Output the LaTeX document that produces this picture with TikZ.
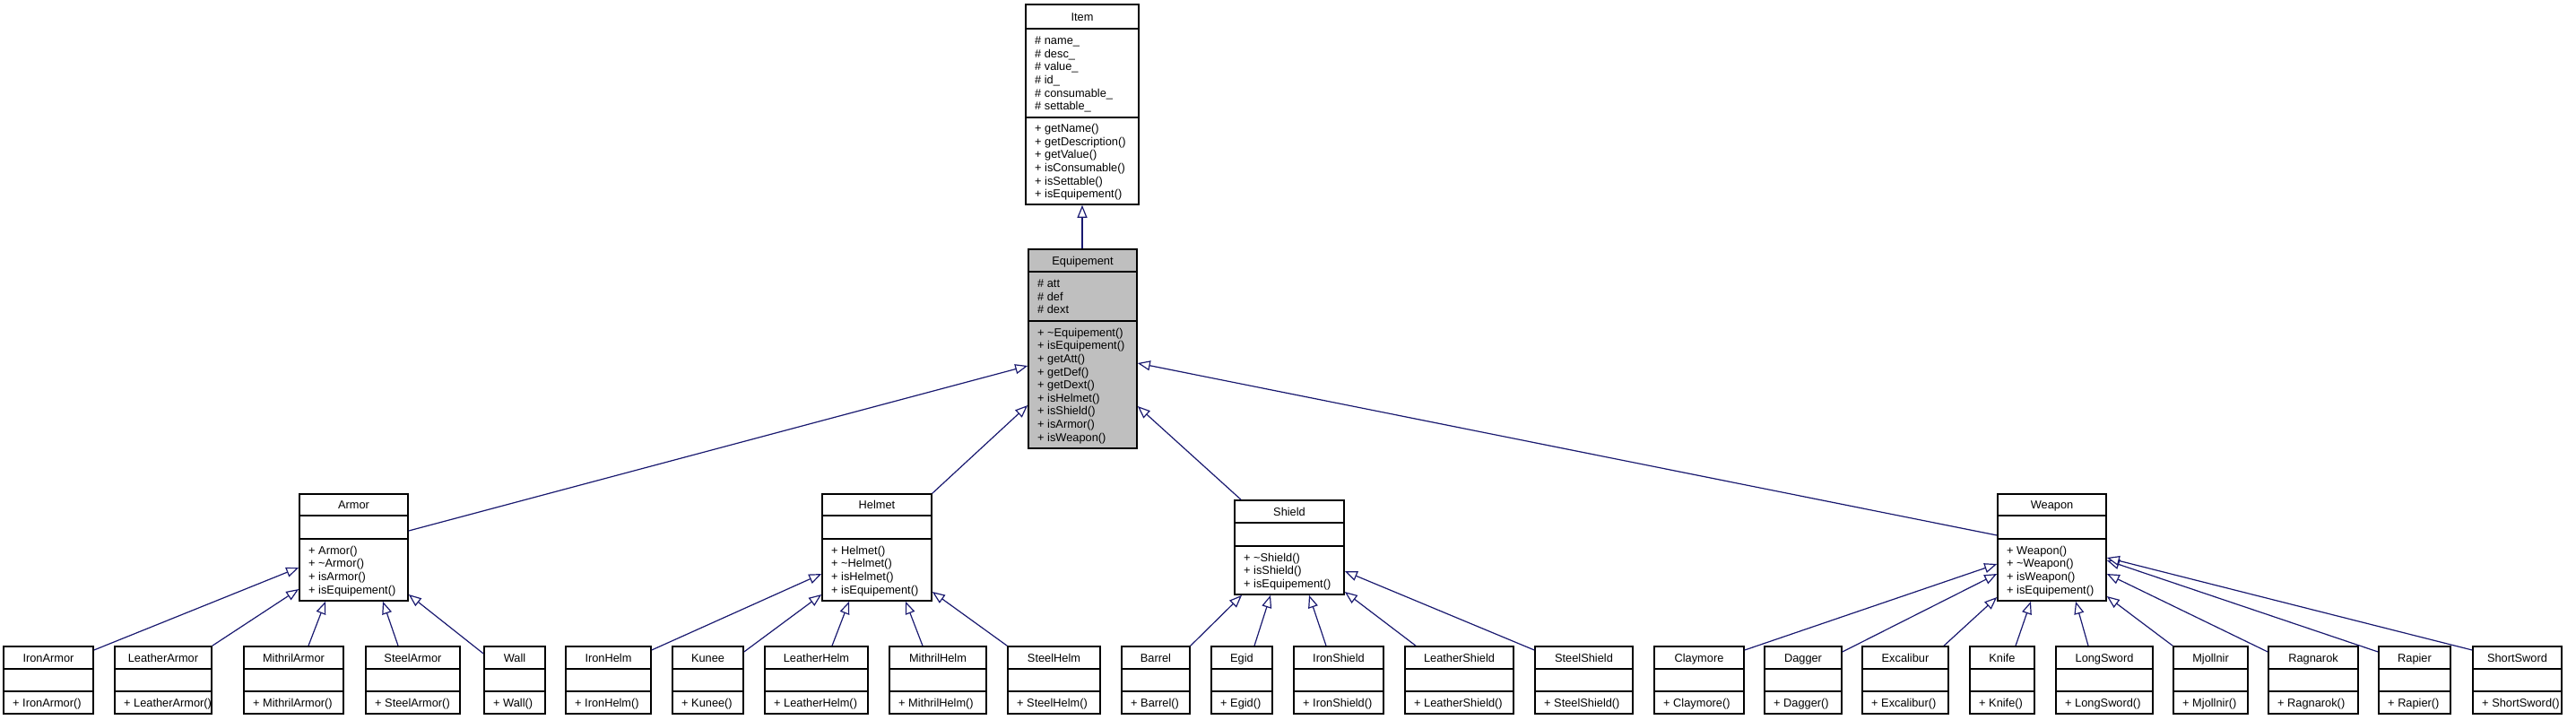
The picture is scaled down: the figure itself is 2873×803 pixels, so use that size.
\documentclass[tikz,border=0pt]{standalone}
\usepackage{fontspec}
\setmainfont{Liberation Sans}
\usetikzlibrary{fit,arrows.meta}
\definecolor{edgeblue}{HTML}{191970}
\definecolor{equipgray}{HTML}{BFBFBF}
\newcommand\cstrut{\rule[-2.7pt]{0pt}{14.6pt}}
\newcommand\cls[9]{%
  \node[clsbox, fit={(#2,#4) (#3,#7)}] (#1) {};
  \draw[clsline] (#2,#5) -- (#3,#5);
  \draw[clsline] (#2,#6) -- (#3,#6);
  \node[clstext] at ({(#2+#3)/2},{(#4+#5)/2}) {\cstrut #8};
  \node[clstext, anchor=west, align=left] at ({#2+10},{(#6+#7)/2}) {#9};
}
\newcommand\clsattrs[4]{%
  \node[clstext, anchor=west, align=left] at ({#1+10},{(#2+#3)/2}) {#4};
}
\tikzset{
  clsbox/.style={draw=black, fill=white, line width=1.6pt, inner sep=0pt},
  clsline/.style={draw=black, line width=1.6pt},
  clstext/.style={inner sep=0pt, font=\fontsize{12.8}{14.6}\selectfont},
  inh/.style={draw=edgeblue, line width=1.2pt, -{Triangle[length=14pt,width=11pt,fill=white]}},
}
\newcommand\cl[1]{\cstrut #1}
\begin{document}
\begin{tikzpicture}[x=1pt,y=-1pt]
\useasboundingbox (0,0) rectangle (2873,803);
\fill[white] (0,0) rectangle (2873,803);
\lineskiplimit=-20pt
% top classes
\cls{item}{1144}{1270}{5}{32}{131}{228}{Item}{\cl{+ getName()}\\\cl{+ getDescription()}\\\cl{+ getValue()}\\\cl{+ isConsumable()}\\\cl{+ isSettable()}\\\cl{+ isEquipement()}}
\clsattrs{1144}{32}{131}{\cl{\# name\_}\\\cl{\# desc\_}\\\cl{\# value\_}\\\cl{\# id\_}\\\cl{\# consumable\_}\\\cl{\# settable\_}}
\begin{scope}[clsbox/.append style={fill=equipgray}]
\cls{equip}{1147}{1268}{278}{303}{358}{500}{Equipement}{\cl{+ \textasciitilde Equipement()}\\\cl{+ isEquipement()}\\\cl{+ getAtt()}\\\cl{+ getDef()}\\\cl{+ getDext()}\\\cl{+ isHelmet()}\\\cl{+ isShield()}\\\cl{+ isArmor()}\\\cl{+ isWeapon()}}
\end{scope}
\clsattrs{1147}{303}{358}{\cl{\# att}\\\cl{\# def}\\\cl{\# dext}}
% middle classes
\cls{armor}{334}{455}{551}{575}{601}{670}{Armor}{\cl{+ Armor()}\\\cl{+ \textasciitilde Armor()}\\\cl{+ isArmor()}\\\cl{+ isEquipement()}}
\cls{helmet}{917}{1039}{551}{575}{601}{670}{Helmet}{\cl{+ Helmet()}\\\cl{+ \textasciitilde Helmet()}\\\cl{+ isHelmet()}\\\cl{+ isEquipement()}}
\cls{shield}{1377}{1499}{558}{583}{609}{663}{Shield}{\cl{+ \textasciitilde Shield()}\\\cl{+ isShield()}\\\cl{+ isEquipement()}}
\cls{weapon}{2228}{2349}{551}{575}{601}{670}{Weapon}{\cl{+ Weapon()}\\\cl{+ \textasciitilde Weapon()}\\\cl{+ isWeapon()}\\\cl{+ isEquipement()}}
% bottom classes
\cls{ironarmor}{4}{104}{721}{746}{771}{796}{IronArmor}{\cl{+ IronArmor()}}
\cls{leatherarmor}{128}{236}{721}{746}{771}{796}{LeatherArmor}{\cl{+ LeatherArmor()}}
\cls{mithrilarmor}{272}{383}{721}{746}{771}{796}{MithrilArmor}{\cl{+ MithrilArmor()}}
\cls{steelarmor}{408}{513}{721}{746}{771}{796}{SteelArmor}{\cl{+ SteelArmor()}}
\cls{wall}{540}{608}{721}{746}{771}{796}{Wall}{\cl{+ Wall()}}
\cls{ironhelm}{631}{726}{721}{746}{771}{796}{IronHelm}{\cl{+ IronHelm()}}
\cls{kunee}{750}{829}{721}{746}{771}{796}{Kunee}{\cl{+ Kunee()}}
\cls{leatherhelm}{853}{968}{721}{746}{771}{796}{LeatherHelm}{\cl{+ LeatherHelm()}}
\cls{mithrilhelm}{992}{1100}{721}{746}{771}{796}{MithrilHelm}{\cl{+ MithrilHelm()}}
\cls{steelhelm}{1124}{1227}{721}{746}{771}{796}{SteelHelm}{\cl{+ SteelHelm()}}
\cls{barrel}{1251}{1327}{721}{746}{771}{796}{Barrel}{\cl{+ Barrel()}}
\cls{egid}{1351}{1419}{721}{746}{771}{796}{Egid}{\cl{+ Egid()}}
\cls{ironshield}{1443}{1543}{721}{746}{771}{796}{IronShield}{\cl{+ IronShield()}}
\cls{leathershield}{1567}{1688}{721}{746}{771}{796}{LeatherShield}{\cl{+ LeatherShield()}}
\cls{steelshield}{1712}{1821}{721}{746}{771}{796}{SteelShield}{\cl{+ SteelShield()}}
\cls{claymore}{1845}{1945}{721}{746}{771}{796}{Claymore}{\cl{+ Claymore()}}
\cls{dagger}{1968}{2054}{721}{746}{771}{796}{Dagger}{\cl{+ Dagger()}}
\cls{excalibur}{2077}{2173}{721}{746}{771}{796}{Excalibur}{\cl{+ Excalibur()}}
\cls{knife}{2197}{2269}{721}{746}{771}{796}{Knife}{\cl{+ Knife()}}
\cls{longsword}{2293}{2401}{721}{746}{771}{796}{LongSword}{\cl{+ LongSword()}}
\cls{mjollnir}{2424}{2507}{721}{746}{771}{796}{Mjollnir}{\cl{+ Mjollnir()}}
\cls{ragnarok}{2530}{2630}{721}{746}{771}{796}{Ragnarok}{\cl{+ Ragnarok()}}
\cls{rapier}{2653}{2733}{721}{746}{771}{796}{Rapier}{\cl{+ Rapier()}}
\cls{shortsword}{2758}{2857}{721}{746}{771}{796}{ShortSword}{\cl{+ ShortSword()}}
% inheritance edges
\draw[inh] (equip.north -| 1207,0) -- (item.south -| 1207,0);
\draw[inh] (armor.east |- 0,592) -- (equip.west |- 0,408);
\draw[inh] (helmet.north east) -- (equip.west |- 0,452);
\draw[inh] (shield.north -| 1384,0) -- (equip.east |- 0,453);
\draw[inh] (weapon.west |- 0,597) -- (equip.east |- 0,405);
% armor children
\draw[inh] (ironarmor.east |- 0,725) -- (armor.west |- 0,633);
\draw[inh] (leatherarmor.north east) -- (armor.west |- 0,657);
\draw[inh] (mithrilarmor.north -| 344,0) -- (armor.south -| 363,0);
\draw[inh] (steelarmor.north -| 444,0) -- (armor.south -| 427,0);
\draw[inh] (wall.west |- 0,729) -- (armor.east |- 0,663);
% helmet children
\draw[inh] (ironhelm.east |- 0,725) -- (helmet.west |- 0,640);
\draw[inh] (kunee.east |- 0,727) -- (helmet.west |- 0,663);
\draw[inh] (leatherhelm.north -| 928,0) -- (helmet.south -| 947,0);
\draw[inh] (mithrilhelm.north -| 1029,0) -- (helmet.south -| 1010,0);
\draw[inh] (steelhelm.north west) -- (helmet.east |- 0,660);
% shield children
\draw[inh] (barrel.north east) -- (shield.south -| 1385,0);
\draw[inh] (egid.north -| 1399,0) -- (shield.south -| 1417,0);
\draw[inh] (ironshield.north -| 1479,0) -- (shield.south -| 1460,0);
\draw[inh] (leathershield.north -| 1579,0) -- (shield.east |- 0,660);
\draw[inh] (steelshield.west |- 0,725) -- (shield.east |- 0,637);
% weapon children
\draw[inh] (claymore.east |- 0,725) -- (weapon.west |- 0,629);
\draw[inh] (dagger.east |- 0,727) -- (weapon.west |- 0,640);
\draw[inh] (excalibur.north -| 2168,0) -- (weapon.west |- 0,666);
\draw[inh] (knife.north -| 2248,0) -- (weapon.south -| 2265,0);
\draw[inh] (longsword.north -| 2329,0) -- (weapon.south -| 2315,0);
\draw[inh] (mjollnir.north west) -- (weapon.east |- 0,665);
\draw[inh] (ragnarok.west |- 0,727) -- (weapon.east |- 0,640);
\draw[inh] (rapier.west |- 0,727) -- (weapon.east |- 0,625);
\draw[inh] (shortsword.west |- 0,725) -- (weapon.east |- 0,622);
\end{tikzpicture}
\end{document}
